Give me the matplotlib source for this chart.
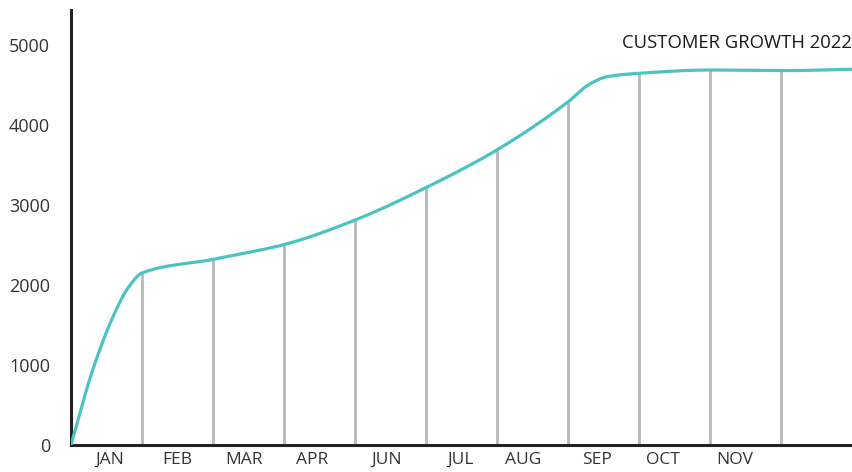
import numpy as np
import matplotlib
matplotlib.use('Agg')
import matplotlib.pyplot as plt

plt.rcParams['font.family'] = ['Open Sans', 'DejaVu Sans']

# curve readings (month position, customers)
curve_x = [0, 0.305, 0.634, 0.82, 1, 2, 3, 4, 5, 6, 7, 7.3, 7.55, 8, 9, 10, 11.01]
curve_y = [0, 937, 1687, 1985, 2150, 2320, 2505, 2812, 3218, 3690, 4290, 4510, 4604, 4646, 4687, 4679, 4696]

# month boundaries with grey drop lines
drop_x = [1, 2, 3, 4, 5, 6, 7, 8, 9, 10]

month_labels = ['JAN', 'FEB', 'MAR', 'APR', 'JUN', 'JUL', 'AUG', 'SEP', 'OCT', 'NOV']
label_pos = [0.55, 1.5, 2.44, 3.4, 4.45, 5.49, 6.36, 7.4, 8.33, 9.34]

y_ticks = [0, 1000, 2000, 3000, 4000, 5000]


def pchip(x, y, xs):
    # monotone cubic so the line stays smooth like the original
    x = np.asarray(x, float)
    y = np.asarray(y, float)
    h = np.diff(x)
    d = np.diff(y) / h
    m = np.zeros_like(y)
    for k in range(1, len(x) - 1):
        if d[k - 1] * d[k] > 0:
            w1 = 2 * h[k] + h[k - 1]
            w2 = h[k] + 2 * h[k - 1]
            m[k] = (w1 + w2) / (w1 / d[k - 1] + w2 / d[k])
    m[0] = d[0]
    m[-1] = d[-1]
    idx = np.clip(np.searchsorted(x, xs) - 1, 0, len(x) - 2)
    t = (xs - x[idx]) / h[idx]
    h00 = 2 * t**3 - 3 * t**2 + 1
    h10 = t**3 - 2 * t**2 + t
    h01 = -2 * t**3 + 3 * t**2
    h11 = t**3 - t**2
    return h00 * y[idx] + h10 * h[idx] * m[idx] + h01 * y[idx + 1] + h11 * h[idx] * m[idx + 1]


xs = np.linspace(curve_x[0], curve_x[-1], 800)
ys = pchip(curve_x, curve_y, xs)

fig = plt.figure(figsize=(8.53, 4.72), dpi=100)
ax = fig.add_axes([71 / 853, 1 - 445 / 472, 1 - 71 / 853, (445 - 10) / 472])

# grey drop lines up to the curve
drop_top = pchip(curve_x, curve_y, np.array(drop_x, float))
ax.vlines(drop_x, 0, drop_top, color='#b8b8b8', lw=2.0, zorder=1)

ax.plot(xs, ys, color='#4cc3c3', lw=2.3, zorder=3, solid_capstyle='round')

ax.set_xlim(0, 11.01)
ax.set_ylim(0, 5437)

for s in ['top', 'right']:
    ax.spines[s].set_visible(False)
for s in ['left', 'bottom']:
    ax.spines[s].set_color('#222222')
    ax.spines[s].set_linewidth(2.2)

ax.set_yticks(y_ticks)
ax.set_yticklabels([str(v) for v in y_ticks])
ax.tick_params(axis='y', length=0, pad=15, labelsize=13, labelcolor='#333333')
ax.set_xticks(label_pos)
ax.set_xticklabels(month_labels)
ax.tick_params(axis='x', length=0, pad=5, labelsize=12.5, labelcolor='#333333')

ax.text(0.998, 5025, 'CUSTOMER GROWTH 2022', transform=ax.get_yaxis_transform(),
        ha='right', va='center', fontsize=13.3, color='#1a1a1a')

fig.savefig('out.png', dpi=100)
